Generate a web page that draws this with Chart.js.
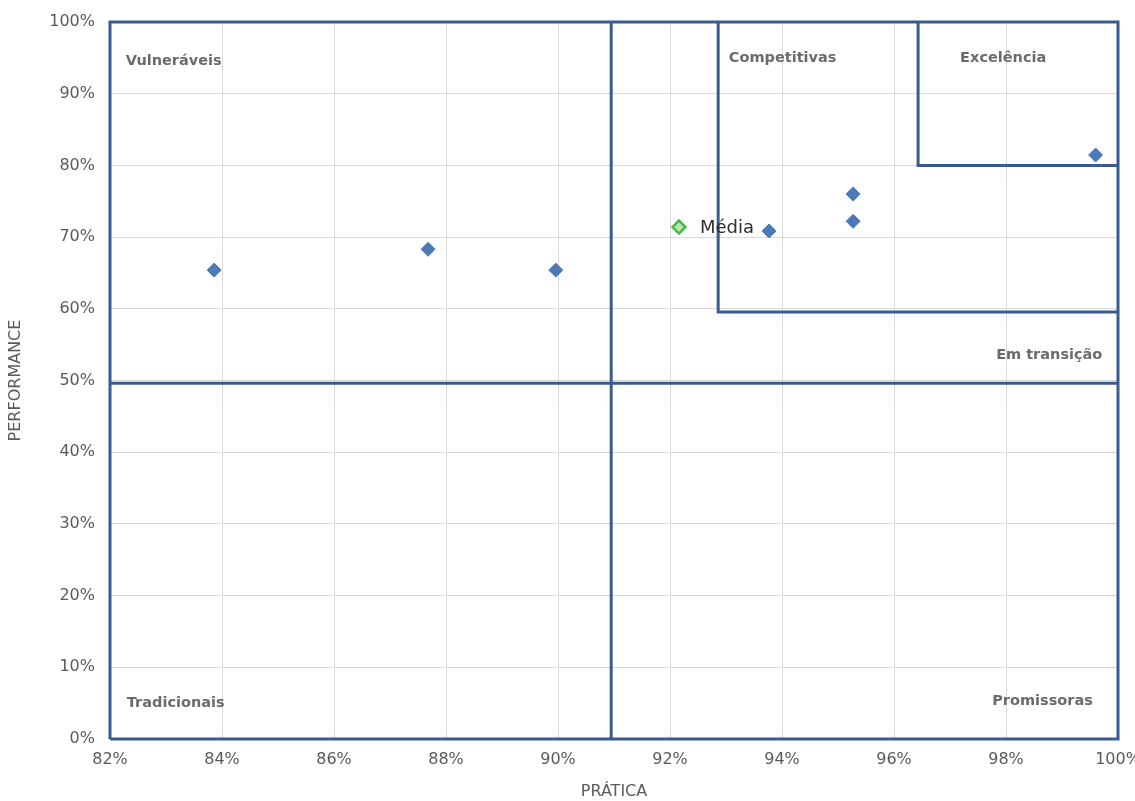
<!DOCTYPE html>
<html>
<head>
<meta charset="utf-8">
<script src="https://cdn.jsdelivr.net/npm/chart.js@4/dist/chart.umd.min.js"></script>
<style>
  html, body { margin: 0; padding: 0; background: #fff; }
  #wrap { width: 1135px; height: 801px; position: relative; }
</style>
</head>
<body>
<div id="wrap"><canvas id="c" width="1135" height="801"></canvas></div>
<script>
// Empresas: prática (x, %) e performance (y, %)
const praticaValues     = [83.86, 87.68, 89.96, 93.77, 95.27, 95.27, 99.6];
const performanceValues = [65.4, 68.3, 65.4, 70.85, 76.0, 72.2, 81.45];

// Ponto médio
const mediaPratica = [92.16];
const mediaPerformance = [71.4];
const mediaLabel = 'Média';

// Eixos
const xTicks = [82, 84, 86, 88, 90, 92, 94, 96, 98, 100];
const yTicks = [0, 10, 20, 30, 40, 50, 60, 70, 80, 90, 100];

// Limites das zonas
const corteX = 90.95;        // divisão vertical principal
const corteY = 49.6;         // divisão horizontal principal
const competitivasX = 92.86;
const competitivasY = 59.55;
const excelenciaX = 96.43;
const excelenciaY = 80;

// Rótulos das zonas: texto, x, y, alinhamento
const zonaNomes  = ['Vulneráveis', 'Competitivas', 'Excelência', 'Em transição', 'Tradicionais', 'Promissoras'];
const zonaX      = [82.28, 93.05, 97.95, 99.72, 82.3, 99.55];
const zonaY      = [94.5, 94.9, 95.0, 53.5, 5.0, 5.3];
const zonaAlign  = ['left', 'left', 'center', 'right', 'left', 'right'];

const lineColor = '#3b5a8f';
const axisFont = '"DejaVu Sans", sans-serif';

function pts(xs, ys) { return xs.map((x, i) => ({ x: x, y: ys[i] })); }

function segment(points) {
  return {
    type: 'scatter',
    data: points,
    showLine: true,
    borderColor: lineColor,
    borderWidth: 3,
    pointRadius: 0,
    pointHoverRadius: 0,
    fill: false,
    clip: 6,
    order: 5
  };
}

const zoneLabels = {
  id: 'zoneLabels',
  afterDatasetsDraw(chart) {
    const { ctx, scales: { x, y } } = chart;
    ctx.save();
    ctx.font = 'bold 14.5px "DejaVu Sans", sans-serif';
    ctx.fillStyle = '#6b6b6b';
    ctx.textBaseline = 'middle';
    zonaNomes.forEach((t, i) => {
      ctx.textAlign = zonaAlign[i];
      ctx.fillText(t, x.getPixelForValue(zonaX[i]), y.getPixelForValue(zonaY[i]));
    });
    // rótulo do ponto médio
    ctx.font = '18px "DejaVu Sans", sans-serif';
    ctx.fillStyle = '#2e2e2e';
    ctx.textAlign = 'left';
    ctx.fillText(mediaLabel, x.getPixelForValue(mediaPratica[0]) + 21, y.getPixelForValue(mediaPerformance[0]) + 1);
    ctx.restore();
  }
};

new Chart(document.getElementById('c'), {
  type: 'scatter',
  data: {
    datasets: [
      segment([{x:82,y:0},{x:82,y:100},{x:100,y:100},{x:100,y:0},{x:82,y:0}]),
      segment([{x:corteX,y:0},{x:corteX,y:100}]),
      segment([{x:82,y:corteY},{x:100,y:corteY}]),
      segment([{x:competitivasX,y:100},{x:competitivasX,y:competitivasY},{x:100,y:competitivasY}]),
      segment([{x:excelenciaX,y:100},{x:excelenciaX,y:excelenciaY},{x:100,y:excelenciaY}]),
      {
        label: 'Empresas',
        data: pts(praticaValues, performanceValues),
        pointStyle: 'rectRot',
        pointRadius: 7,
        backgroundColor: '#4a7ab8',
        borderColor: '#4a7ab8',
        borderWidth: 1,
        order: 1
      },
      {
        label: mediaLabel,
        data: pts(mediaPratica, mediaPerformance),
        pointStyle: 'rectRot',
        pointRadius: 6.5,
        backgroundColor: '#b8e6a8',
        borderColor: '#4cb84c',
        borderWidth: 2.5,
        order: 0
      }
    ]
  },
  options: {
    responsive: false,
    animation: false,
    events: [],
    layout: { padding: { left: 0, top: 22, right: 17, bottom: 0 } },
    plugins: { legend: { display: false }, tooltip: { enabled: false } },
    scales: {
      x: {
        type: 'linear',
        min: 82, max: 100,
        afterBuildTicks: s => { s.ticks = xTicks.map(v => ({ value: v })); },
        afterFit: s => { s.height = 62; s.paddingLeft = 0; s.paddingRight = 0; },
        grid: { color: '#d9d9d9', lineWidth: 1, drawTicks: false },
        border: { display: false },
        ticks: {
          color: '#5a5a5a', padding: 11,
          font: { family: axisFont, size: 16 },
          callback: v => v + '%', maxRotation: 0, autoSkip: false
        },
        title: {
          display: true, text: 'PRÁTICA', color: '#5a5a5a', padding: { top: 7, bottom: 0 },
          font: { family: axisFont, size: 16 }
        }
      },
      y: {
        type: 'linear',
        min: 0, max: 100,
        afterBuildTicks: s => { s.ticks = yTicks.map(v => ({ value: v })); },
        afterFit: s => { s.width = 110; s.paddingTop = 0; s.paddingBottom = 0; },
        grid: { color: '#d9d9d9', lineWidth: 1, drawTicks: false },
        border: { display: false },
        ticks: {
          color: '#5a5a5a', padding: 15,
          font: { family: axisFont, size: 16 },
          callback: v => v + '%', autoSkip: false
        },
        title: {
          display: true, text: 'PERFORMANCE', color: '#5a5a5a', padding: { top: 6, bottom: 16 },
          font: { family: axisFont, size: 16 }
        }
      }
    }
  },
  plugins: [zoneLabels]
});
</script>
</body>
</html>
